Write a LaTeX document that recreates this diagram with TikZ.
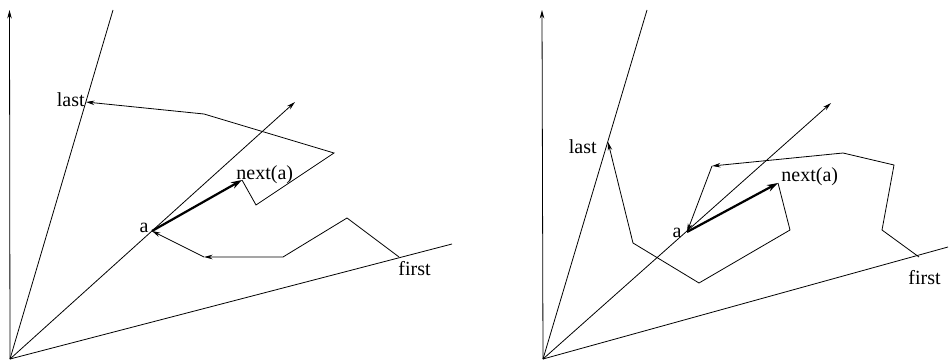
\documentclass[tikz,border=0pt]{standalone}
\usepackage{fontspec}
\setmainfont{Liberation Serif}
\usetikzlibrary{arrows.meta}

\begin{document}
\begin{tikzpicture}[
    x=1pt, y=-1pt,
    line width=0.8pt,
    ptlabel/.style={font=\fontsize{20}{24}\selectfont, inner sep=0pt},
    step arrow/.style={line width=2.2pt, -{Stealth[length=11pt,width=7pt]}},
    >={Stealth[length=8.5pt,width=4.5pt]}
]
\useasboundingbox (0,0) rectangle (949,361);

% Left side
\coordinate (oL)  at (10,359);
\coordinate (upL) at (9.5,10);
\coordinate (rlL) at (113,10);
\coordinate (rdL) at (295,102);
\coordinate (rfL) at (452,244);

\draw[->] (oL) -- (upL);
\draw (oL) -- (rlL);
\draw[->] (oL) -- (rdL);
\draw (oL) -- (rfL);

\coordinate (firstL) at (399,257);
\coordinate (p1L) at (347,218);
\coordinate (p2L) at (283,257);
\coordinate (p3L) at (204,257);
\coordinate (aL) at (152,231);
\coordinate (nextL) at (242,180);
\coordinate (p4L) at (256,205);
\coordinate (p5L) at (334,153);
\coordinate (p6L) at (204,114);
\coordinate (lastL) at (86,102);

\draw[->] (firstL) -- (p1L) -- (p2L) -- (p3L);
\draw[->] (p3L) -- (aL);
\draw[step arrow] (aL) -- (nextL);
\draw[->] (nextL) -- (p4L) -- (p5L) -- (p6L) -- (lastL);

\node[ptlabel, anchor=base east] (lblLastL)  at (85,106)  {last};
\node[ptlabel, anchor=base west] (lblNextL)  at (236,179) {next(a)};
\node[ptlabel, anchor=base east] (lblAL)     at (149,232) {a};
\node[ptlabel, anchor=base west] (lblFirstL) at (398,275) {first};

% Right side
\coordinate (oR)  at (543,359);
\coordinate (upR) at (542,10);
\coordinate (rlR) at (647,10);
\coordinate (rdR) at (831,103);
\coordinate (rfR) at (948,247);

\draw[->] (oR) -- (upR);
\draw (oR) -- (rlR);
\draw[->] (oR) -- (rdR);
\draw (oR) -- (rfR);

\coordinate (firstR) at (919,257);
\coordinate (p1R) at (882,230);
\coordinate (p2R) at (894,165);
\coordinate (p3R) at (843,153);
\coordinate (p4R) at (712,166);
\coordinate (aR) at (687,232);
\coordinate (nextR) at (778,183);
\coordinate (p5R) at (790,230);
\coordinate (p6R) at (699,283);
\coordinate (p7R) at (633,243);
\coordinate (lastR) at (608,142);

\draw[->] (firstR) -- (p1R) -- (p2R) -- (p3R) -- (p4R);
\draw[->] (p4R) -- (aR);
\draw[step arrow] (aR) -- (nextR);
\draw[->] (nextR) -- (p5R) -- (p6R) -- (p7R) -- (lastR);

\node[ptlabel, anchor=base east] (lblLastR)  at (597,153) {last};
\node[ptlabel, anchor=base west] (lblNextR)  at (781,181) {next(a)};
\node[ptlabel, anchor=base east] (lblAR)     at (682,237) {a};
\node[ptlabel, anchor=base west] (lblFirstR) at (908,284) {first};
\end{tikzpicture}
\end{document}
